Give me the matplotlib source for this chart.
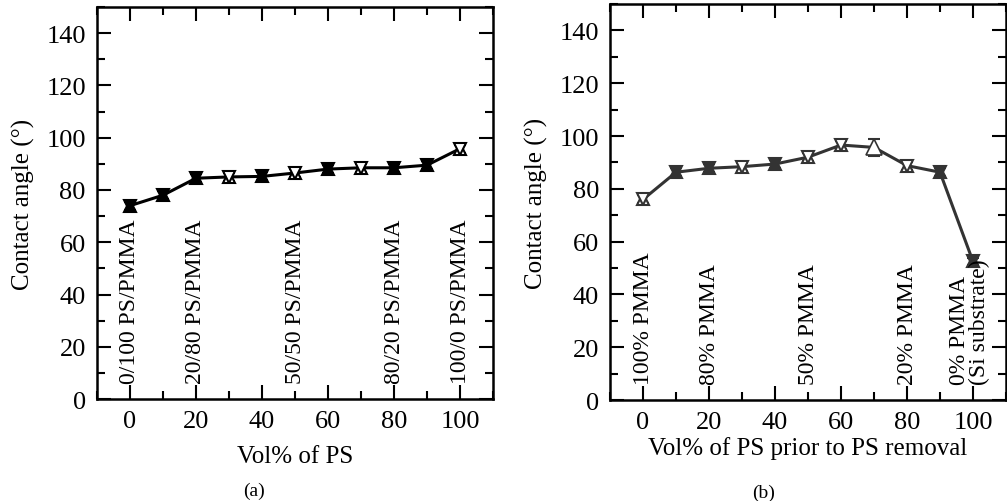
import numpy as np
import matplotlib
matplotlib.use('Agg')
import matplotlib.pyplot as plt
from matplotlib.ticker import MultipleLocator

plt.rcParams['font.family'] = ['Liberation Serif', 'DejaVu Serif']

# data
vol_ps = [0, 10, 20, 30, 40, 50, 60, 70, 80, 90, 100]
angle_a = [74.0, 78.0, 84.5, 85.0, 85.2, 86.5, 88.0, 88.5, 88.5, 89.5, 95.8]
err_a = [1.5, 1.5, 1.5, 1.5, 1.5, 1.5, 1.5, 1.5, 1.5, 1.5, 1.5]
angle_b = [76.0, 86.3, 87.8, 88.4, 89.4, 92.0, 96.6, 95.7, 88.8, 86.3, 52.5]
err_b = [1.5, 1.5, 1.5, 1.5, 1.5, 1.5, 1.5, 3.2, 1.5, 1.5, 1.5]

labels_a = ['0/100 PS/PMMA', '20/80 PS/PMMA', '50/50 PS/PMMA',
            '80/20 PS/PMMA', '100/0 PS/PMMA']
labels_a_x = [0, 20, 50, 80, 100]
labels_b = ['100% PMMA', '80% PMMA', '50% PMMA', '20% PMMA',
            '0% PMMA\n(Si substrate)']
labels_b_x = [0, 20, 50, 80, 99]

hollow_a = [30, 50, 70, 100]
hollow_b = [0, 30, 50, 60, 80]

fig = plt.figure(figsize=(10.07, 5.02), dpi=100)
ax_a = fig.add_axes([0.0963, 0.203, 0.3933, 0.781])
ax_b = fig.add_axes([0.6058, 0.201, 0.3932, 0.789])


def draw_panel(ax, x, y, err, hollow, color, skip_open=None):
    ax.errorbar(x, y, yerr=err, color=color, lw=2.2, capsize=4,
                elinewidth=1.5, capthick=1.5, zorder=2)
    for xi, yi in zip(x, y):
        if xi == skip_open:
            ax.plot(xi, yi, marker='^', ms=11, mfc='white', mec=color,
                    mew=1.2, zorder=3)
            continue
        fc = 'white' if xi in hollow else color
        ax.plot(xi, yi, marker='^', ms=8, mfc=fc, mec=color, mew=1.5,
                zorder=3)
        ax.plot(xi, yi, marker='v', ms=8, mfc=fc, mec=color, mew=1.5,
                zorder=3)

    ax.set_xlim(-10, 110)
    ax.set_ylim(0, 150)
    ax.xaxis.set_major_locator(MultipleLocator(20))
    ax.xaxis.set_minor_locator(MultipleLocator(10))
    ax.yaxis.set_major_locator(MultipleLocator(20))
    ax.yaxis.set_minor_locator(MultipleLocator(10))
    ax.set_xticks([0, 20, 40, 60, 80, 100])
    ax.set_yticks(range(0, 141, 20))
    ax.tick_params(which='both', direction='in', top=True, right=True,
                   width=1.5, labelsize=19, pad=8)
    ax.tick_params(which='major', length=10)
    ax.tick_params(which='minor', length=6)
    for sp in ax.spines.values():
        sp.set_linewidth(1.8)
    ax.set_ylabel('Contact angle (°)', fontsize=18, labelpad=8)


draw_panel(ax_a, vol_ps, angle_a, err_a, hollow_a, 'black')
draw_panel(ax_b, vol_ps, angle_b, err_b, hollow_b, '#333333', skip_open=70)

for txt, xi in zip(labels_a, labels_a_x):
    ax_a.text(xi, 6, txt, rotation=90, ha='center', va='bottom',
              fontsize=17)
for txt, xi in zip(labels_b, labels_b_x):
    ax_b.text(xi, 6, txt, rotation=90, ha='center', va='bottom',
              fontsize=17, multialignment='left', linespacing=0.9)

ax_a.set_xlabel('Vol% of PS', fontsize=18, labelpad=9)
ax_b.set_xlabel('Vol% of PS prior to PS removal', fontsize=18, labelpad=2)

fig.text(0.252, 0.012, '(a)', ha='center', fontsize=14)
fig.text(0.758, 0.008, '(b)', ha='center', fontsize=14)

fig.savefig('out.png', dpi=100)
